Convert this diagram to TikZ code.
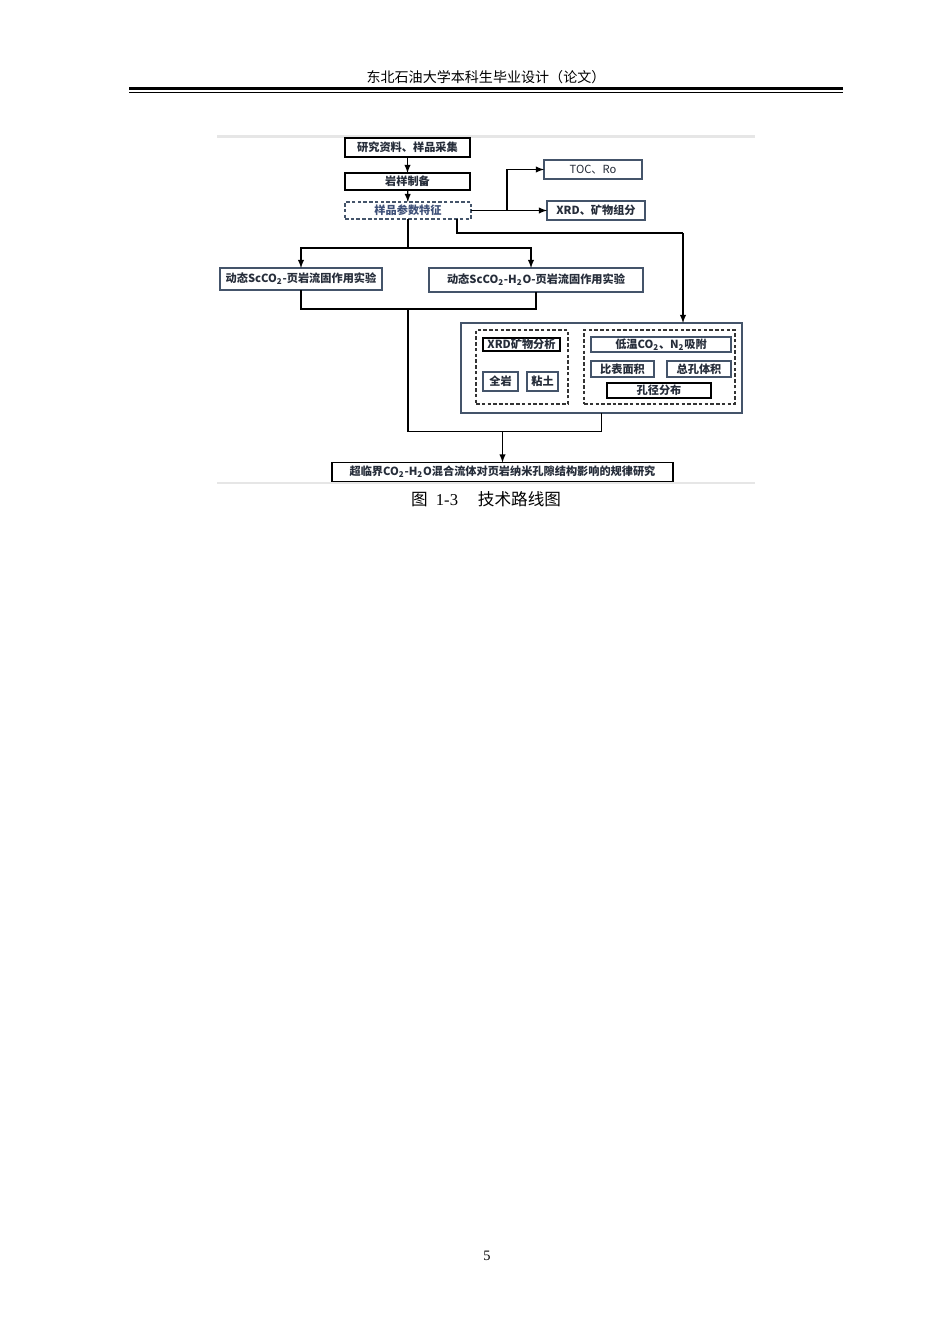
\documentclass[tikz,border=0pt]{standalone}
\usepackage{fontspec}
\newfontfamily\cjk{Noto Sans CJK SC}
\newfontfamily\tms{Liberation Serif}
\newcommand{\pxu}{0.6264pt}
\newcommand{\bxb}{\cjk\bfseries\fontsize{7}{8}\selectfont}
\newcommand{\bxr}{\cjk\fontsize{7}{8}\selectfont}
\definecolor{slate}{HTML}{44546A}
\definecolor{ink}{HTML}{262D3A}
\definecolor{paramblue}{HTML}{3E5078}
\definecolor{rulegray}{HTML}{E6E6E6}
\tikzset{
  >=latex,
  wh/.style 2 args={minimum width=#1*\pxu, minimum height=#2*\pxu},
}
\tikzstyle{every node}=[inner sep=0pt, outer sep=0pt]
\tikzstyle{blk}=[draw=black, line width=1.1pt, fill=white, text=ink, font=\bxb]
\tikzstyle{slt}=[draw=slate, line width=0.9pt, fill=white, text=ink, font=\bxb]
\tikzstyle{dsh}=[draw=slate, line width=0.9pt, dash pattern=on 2.2pt off 1.4pt, fill=white, text=paramblue, font=\bxb]
\tikzstyle{grp}=[draw=black!80, line width=0.9pt, dash pattern=on 2.2pt off 1.4pt]
\tikzstyle{link}=[line width=0.75pt]

\begin{document}
\begin{tikzpicture}[x=0.6264pt,y=-0.6264pt]
        \useasboundingbox (0,0) rectangle (950,1344);
        \node[font=\cjk\fontsize{8.8}{10}\selectfont] (header) at (486,77) {东北石油大学本科生毕业设计（论文）};
        \draw[line width=3*\pxu] (129,88.8) -- (843,88.8);
        \draw[line width=1*\pxu] (129,92.6) -- (843,92.6);
        \draw[rulegray, line width=2.2*\pxu] (217,136.5) -- (755,136.5);
        \draw[rulegray, line width=1.6*\pxu] (217,483) -- (755,483);

        \node[blk, wh={125}{19}] (collect) at (407.5,147.5) {研究资料、样品采集};
        \node[blk, wh={125}{17}] (prep) at (407.5,181.5) {岩样制备};
        \node[dsh, wh={126}{17}] (param) at (408,210.5) {样品参数特征};
        \node[slt, wh={98}{19}, font=\bxr] (toc) at (593,169.5) {TOC、Ro};
        \node[slt, wh={98}{19}] (xrd) at (596,210.5) {XRD、矿物组分};
        \node[slt, wh={162}{22}] (exp1) at (301,279) {动态ScCO\textsubscript{2}-页岩流固作用实验};
        \node[slt, wh={214}{24}] (exp2) at (536,280) {动态ScCO\textsubscript{2}-H\textsubscript{2}O-页岩流固作用实验};

        \node[slt, wh={281}{90}] (big) at (601.5,368) {};
        \node[grp, wh={92}{74}] (left) at (522,367) {};
        \node[blk, line width=0.9pt, wh={77}{13}] (mineral) at (521.5,344.5) {XRD矿物分析};
        \node[slt, wh={35}{19}] (whole) at (500.5,381.5) {全岩};
        \node[slt, wh={31}{19}] (clay) at (542.5,381.5) {粘土};
        \node[grp, wh={151}{74}] (right) at (659.5,367) {};
        \node[slt, wh={140}{15}] (adsorb) at (661,344.5) {低温CO\textsubscript{2}、N\textsubscript{2}吸附};
        \node[slt, wh={63}{16}] (area) at (622.5,369) {比表面积};
        \node[slt, wh={64}{16}] (volume) at (699,369) {总孔体积};
        \node[blk, line width=0.9pt, wh={104}{15}] (pore) at (659,390.5) {孔径分布};

        \node[blk, wh={341}{19}, font=\cjk\bfseries\fontsize{7}{8}\selectfont] (final) at (502.5,472) {超临界CO\textsubscript{2}-H\textsubscript{2}O混合流体对页岩纳米孔隙结构影响的规律研究};
        \node[font=\cjk\fontsize{10.4}{12}\selectfont] (caption) at (486,499) {图\hspace{0.5em}{\tms 1-3}\hspace{1.2em}技术路线图};
        \node[font=\tms\fontsize{9}{10}\selectfont] (pagenum) at (487,1256) {5};

        \coordinate (fork) at (507,210.5);
        \coordinate (split) at (408,248);
        \coordinate (tap) at (457,219);
        \coordinate (bend) at (683,233);
        \coordinate (merge) at (408,309);
        \coordinate (low) at (408,431.5);

        \draw[link,->] (collect) -- (prep);
        \draw[link,->] (prep) -- (param);
        \draw[link] (param.east) -- (fork);
        \draw[link,->] (fork) |- (toc.west);
        \draw[link,->] (fork) -- (xrd.west);
        \draw[link] (param.south) -- (split);
        \draw[link,->] (split) -| (exp1.north);
        \draw[link,->] (split) -| ([xshift=-5*\pxu]exp2.north);
        \draw[link] (tap) |- (bend);
        \draw[link,->] (bend) -- (bend |- big.north);
        \draw[link] (exp1.south) |- (merge);
        \draw[link] (exp2.south) |- (merge);
        \draw[link] (merge) -- (low) -| (big.south);
        \draw[link,->] (low -| final.north) -- (final.north);
      \end{tikzpicture}
\end{document}
